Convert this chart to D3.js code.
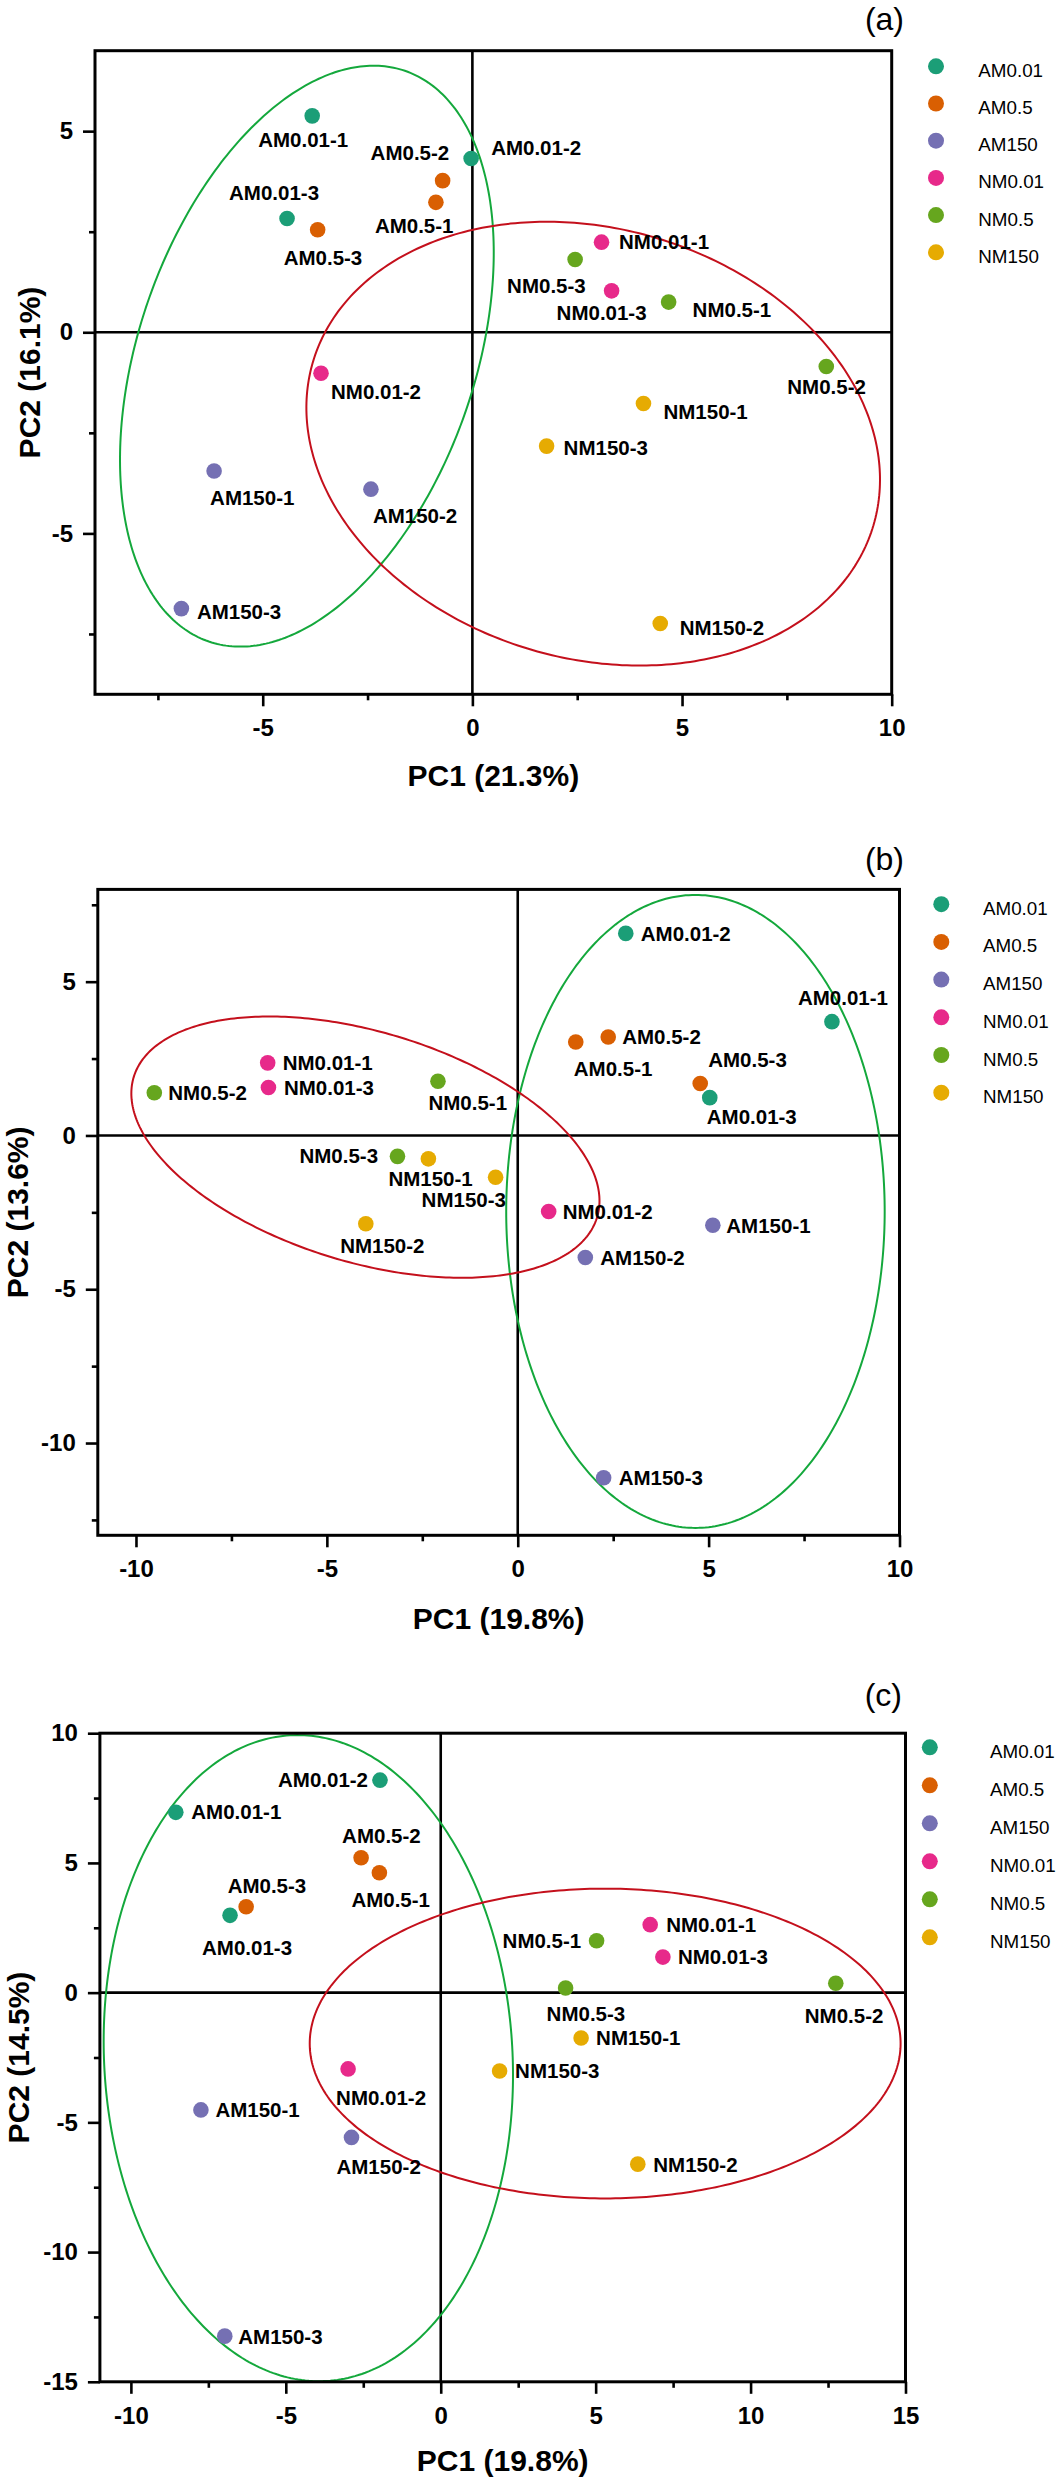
<!DOCTYPE html>
<html><head><meta charset="utf-8">
<script src="https://cdn.jsdelivr.net/npm/d3@7"></script>
<style>
body{margin:0;background:#fff;}
svg{display:block;font-family:"Liberation Sans",Arial,Helvetica,sans-serif;}
</style></head><body>
<svg id="chart" width="1058" height="2480"></svg>
<script>
// ---------------- DATA ----------------
const groups = ["AM0.01", "AM0.5", "AM150", "NM0.01", "NM0.5", "NM150"];
const replicates = [1, 2, 3];
const sampleNames = groups.flatMap(g => replicates.map(r => `${g}-${r}`));

// Panel (a) scores (order: each group, replicates 1..3)
const pcaA_PC1 = [-3.82, -0.03, -4.42, -0.87, -0.71, -3.69, -6.16, -2.42, -6.94, 3.08, -3.61, 3.32, 4.68, 8.44, 2.45, 4.08, 4.48, 1.77];
const pcaA_PC2 = [5.38, 4.32, 2.83, 3.23, 3.77, 2.55, -3.45, -3.90, -6.87, 2.24, -1.02, 1.03, 0.75, -0.85, 1.81, -1.77, -7.24, -2.83];
// Panel (b)
const pcaB_PC1 = [8.23, 2.83, 5.03, 1.52, 2.37, 4.78, 5.11, 1.77, 2.25, -6.55, 0.81, -6.53, -2.09, -9.52, -3.15, -2.34, -3.98, -0.58];
const pcaB_PC2 = [3.70, 6.57, 1.23, 3.04, 3.20, 1.69, -2.92, -3.97, -11.13, 2.36, -2.47, 1.56, 1.76, 1.39, -0.68, -0.76, -2.87, -1.36];
// Panel (c)
const pcaC_PC1 = [-8.55, -1.96, -6.80, -1.98, -2.57, -6.28, -7.74, -2.88, -6.97, 6.76, -2.99, 7.17, 5.03, 12.75, 4.03, 4.53, 6.36, 1.90];
const pcaC_PC2 = [6.95, 8.19, 2.98, 4.62, 5.20, 3.31, -4.52, -5.58, -13.24, 2.62, -2.94, 1.37, 2.00, 0.36, 0.18, -1.75, -6.61, -3.02];

// Group ellipses: [centre PC1, centre PC2, semi-axis 1, semi-axis 2, angle of axis 1 (deg)] in data units
const ellipseA_AM = [-3.947, -0.594, 7.470, 4.025, 72.3];
const ellipseA_NM = [2.881, -2.769, 6.987, 5.329, -18.4];
const ellipseB_AM = [4.655, -2.47, 10.29, 4.957, 90];
const ellipseB_NM = [-3.99, -0.38, 6.505, 3.650, -23.8];
const ellipseC_AM = [-4.273, -2.525, 12.458, 6.593, 92.2];
const ellipseC_NM = [5.307, -1.962, 9.535, 5.970, 0];

// Axis titles and tick values
const titlesA = ["PC1 (21.3%)", "PC2 (16.1%)"];
const titlesB = ["PC1 (19.8%)", "PC2 (13.6%)"];
const titlesC = ["PC1 (19.8%)", "PC2 (14.5%)"];
const ticksA_x = [-5, 0, 5, 10], ticksA_y = [-5, 0, 5];
const minorA_x = [-7.5, -2.5, 2.5, 7.5], minorA_y = [-7.5, -2.5, 2.5];
const ticksB_x = [-10, -5, 0, 5, 10], ticksB_y = [-10, -5, 0, 5];
const minorB_x = [-7.5, -2.5, 2.5, 7.5], minorB_y = [-12.5, -7.5, -2.5, 2.5, 7.5];
const ticksC_x = [-10, -5, 0, 5, 10, 15], ticksC_y = [-15, -10, -5, 0, 5, 10];
const minorC_x = [-7.5, -2.5, 2.5, 7.5, 12.5], minorC_y = [-12.5, -7.5, -2.5, 2.5, 7.5];
const domainA = [[-9, 10], [-9, 7]];
const domainB = [[-11, 10], [-13, 8]];
const domainC = [[-11, 15], [-15, 10]];
const panelTags = ["(a)", "(b)", "(c)"];

// ---------------- STYLE / LAYOUT ----------------
const groupColors = ["#1b9e77", "#d95f02", "#7570b3", "#e7298a", "#66a61e", "#e6ab02"];
const ellipseColors = { AM: "#14a83c", NM: "#c4101c" };

// label offsets in px from the point: [dx to text start, dy to text centre]
const labelOffA = [[-54, 24], [20, -11], [-58, -26], [-61, 23], [-72, -28], [-34, 27.6], [-4, 27], [2, 26], [15.5, 3],
  [17.5, -1], [10, 18.5], [-55, 22], [24, 8], [-39, 20], [-68, 26], [20, 8], [19.5, 4], [17, 2]];
const labelOffB = [[-34, -24], [15, 0.5], [-3, 19.4], [-2, 26.5], [14, 0], [8, -23.5], [13.5, 0], [15, 0], [15, 0],
  [15, 0], [14, 0], [15.5, 0], [-9.5, 21.4], [14, 0], [-98, -1], [-40, 20], [-25.6, 21.4], [-74, 22]];
const labelOffC = [[15.5, -1], [-102, -1], [-28, 32.5], [-28, 27], [-19, -22.5], [-18.5, -21], [14.5, 0], [-15, 29], [13.5, 0],
  [16, 0], [-12, 29], [15, 0], [-94, 0], [-31, 32], [-19, 26], [15, 0], [15.5, 0], [15.5, 0]];

const panels = [
  { pc1: pcaA_PC1, pc2: pcaA_PC2, ell: [[ellipseA_AM, "AM"], [ellipseA_NM, "NM"]], titles: titlesA,
    dom: domainA, tx: ticksA_x, ty: ticksA_y, mx: minorA_x, my: minorA_y, off: labelOffA, tag: panelTags[0],
    box: { l: 95, r: 891.7, t: 50.7, b: 694.3 }, leg: { cx: 936, tx: 978.3, y0: 66.3, step: 37.2 },
    tagPos: [904, 30], xTitleY: 785.6, yTitleX: 39.6 },
  { pc1: pcaB_PC1, pc2: pcaB_PC2, ell: [[ellipseB_AM, "AM"], [ellipseB_NM, "NM"]], titles: titlesB,
    dom: domainB, tx: ticksB_x, ty: ticksB_y, mx: minorB_x, my: minorB_y, off: labelOffB, tag: panelTags[1],
    box: { l: 97.8, r: 899.5, t: 889.4, b: 1535.3 }, leg: { cx: 941.3, tx: 983, y0: 904.2, step: 37.7 },
    tagPos: [904, 870.4], xTitleY: 1629, yTitleX: 27.5 },
  { pc1: pcaC_PC1, pc2: pcaC_PC2, ell: [[ellipseC_AM, "AM"], [ellipseC_NM, "NM"]], titles: titlesC,
    dom: domainC, tx: ticksC_x, ty: ticksC_y, mx: minorC_x, my: minorC_y, off: labelOffC, tag: panelTags[2],
    box: { l: 99.9, r: 905.5, t: 1733.2, b: 2381.8 }, leg: { cx: 929.8, tx: 990, y0: 1747.3, step: 38 },
    tagPos: [902, 1705.6], xTitleY: 2470.6, yTitleX: 29 }
];

const svg = d3.select("#chart");
const color = d3.scaleOrdinal().domain(groups).range(groupColors);

function drawPanel(p) {
  const B = p.box;
  const x = d3.scaleLinear().domain(p.dom[0]).range([B.l, B.r]);
  const y = d3.scaleLinear().domain(p.dom[1]).range([B.b, B.t]);
  const g = svg.append("g");

  // zero lines
  g.append("line").attr("x1", B.l).attr("x2", B.r).attr("y1", y(0)).attr("y2", y(0))
    .attr("stroke", "#000").attr("stroke-width", 2.6);
  g.append("line").attr("x1", x(0)).attr("x2", x(0)).attr("y1", B.t).attr("y2", B.b)
    .attr("stroke", "#000").attr("stroke-width", 2.6);

  // ellipses
  const line = d3.line().x(d => x(d[0])).y(d => y(d[1])).curve(d3.curveLinearClosed);
  p.ell.forEach(([e, key]) => {
    const [cx, cy, a, b, deg] = e;
    const th = deg * Math.PI / 180;
    const pts = d3.range(0, 360, 1).map(t => {
      const r = t * Math.PI / 180;
      return [cx + a * Math.cos(r) * Math.cos(th) - b * Math.sin(r) * Math.sin(th),
              cy + a * Math.cos(r) * Math.sin(th) + b * Math.sin(r) * Math.cos(th)];
    });
    g.append("path").attr("d", line(pts)).attr("fill", "none")
      .attr("stroke", ellipseColors[key]).attr("stroke-width", 2);
  });

  // frame
  g.append("rect").attr("x", B.l).attr("y", B.t).attr("width", B.r - B.l).attr("height", B.b - B.t)
    .attr("fill", "none").attr("stroke", "#000").attr("stroke-width", 3);

  // axes
  const fmt = d => String(d);
  const xa = g.append("g").attr("transform", `translate(0,${B.b})`)
    .call(d3.axisBottom(x).tickValues(p.tx).tickSize(12).tickPadding(13).tickFormat(fmt));
  const xm = g.append("g").attr("transform", `translate(0,${B.b})`)
    .call(d3.axisBottom(x).tickValues(p.mx).tickSize(6).tickFormat(""));
  const ya = g.append("g").attr("transform", `translate(${B.l},0)`)
    .call(d3.axisLeft(y).tickValues(p.ty).tickSize(12).tickPadding(10).tickFormat(fmt));
  const ym = g.append("g").attr("transform", `translate(${B.l},0)`)
    .call(d3.axisLeft(y).tickValues(p.my).tickSize(6).tickFormat(""));
  [xa, xm, ya, ym].forEach(ax => {
    ax.select(".domain").remove();
    ax.selectAll("line").attr("stroke", "#000").attr("stroke-width", 2.6);
    ax.selectAll("text").attr("fill", "#000").attr("font-size", 24).attr("font-weight", "bold")
      .attr("font-family", "'Liberation Sans', Arial, sans-serif");
  });

  // points
  const pts = sampleNames.map((n, i) => ({ name: n, group: groups[Math.floor(i / 3)], x: p.pc1[i], y: p.pc2[i], off: p.off[i] }));
  g.selectAll("circle.pt").data(pts).join("circle").attr("class", "pt")
    .attr("cx", d => x(d.x)).attr("cy", d => y(d.y)).attr("r", 7.8)
    .attr("fill", d => color(d.group));
  g.selectAll("text.lbl").data(pts).join("text").attr("class", "lbl")
    .attr("x", d => x(d.x) + d.off[0]).attr("y", d => y(d.y) + d.off[1]).attr("dy", "0.36em")
    .attr("font-size", 20.5).attr("font-weight", "bold").attr("fill", "#000").text(d => d.name);

  // legend
  const L = p.leg;
  const lg = g.append("g");
  groups.forEach((gr, i) => {
    lg.append("circle").attr("cx", L.cx).attr("cy", L.y0 + i * L.step).attr("r", 8).attr("fill", color(gr));
    lg.append("text").attr("x", L.tx).attr("y", L.y0 + i * L.step + 10.5).attr("font-size", 18.8)
      .attr("fill", "#000").text(gr);
  });

  // titles
  g.append("text").attr("x", (B.l + B.r) / 2).attr("y", p.xTitleY).attr("text-anchor", "middle")
    .attr("font-size", 30).attr("font-weight", "bold").text(p.titles[0]);
  g.append("text").attr("transform", `translate(${p.yTitleX},${(B.t + B.b) / 2}) rotate(-90)`)
    .attr("text-anchor", "middle").attr("font-size", 30).attr("font-weight", "bold").text(p.titles[1]);
  g.append("text").attr("x", p.tagPos[0]).attr("y", p.tagPos[1]).attr("text-anchor", "end")
    .attr("font-size", 32).text(p.tag);
}

panels.forEach(drawPanel);
</script>
</body></html>
